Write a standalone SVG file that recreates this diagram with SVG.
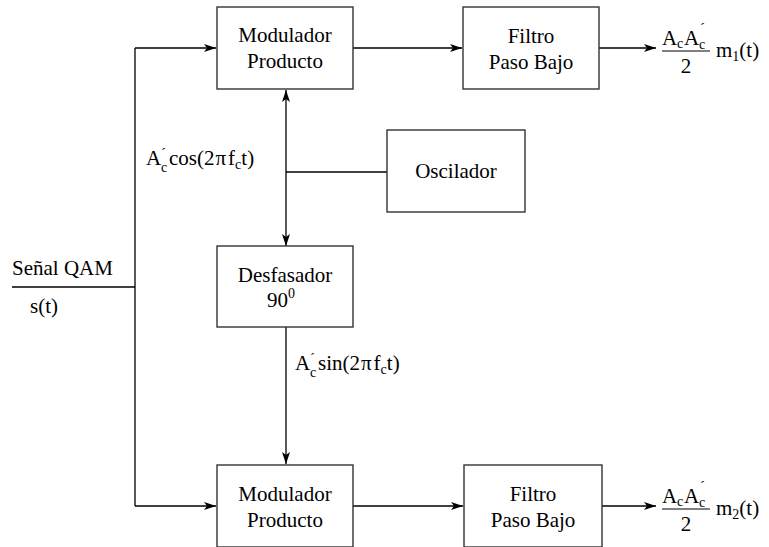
<svg xmlns="http://www.w3.org/2000/svg" width="769" height="547" viewBox="0 0 769 547">
  <style>
    .box { fill: #fff; stroke: #333; stroke-width: 1.4; }
    .wire { fill: none; stroke: #000; stroke-width: 1.3; }
    text { font-family: "Liberation Serif", "DejaVu Serif", serif; font-size: 21px; fill: #000; }
    .mid { text-anchor: middle; }
    .sub { font-size: 14px; }
    .acc { font-size: 15px; }
  </style>
  <defs>
    <marker id="arr" viewBox="0 0 12 8" refX="12" refY="4" markerWidth="12" markerHeight="8" markerUnits="userSpaceOnUse" orient="auto">
      <path d="M0,0 L12,4 L0,8 L3,4 Z" fill="#000"/>
    </marker>
  </defs>

  <rect width="769" height="547" fill="#fff"/>

  <!-- connectors -->
  <g id="connectors">
    <!-- input line and split -->
    <path class="wire" d="M12,287 H135"/>
    <path class="wire" d="M135,48 V506"/>
    <path class="wire" d="M135,48 H216" marker-end="url(#arr)"/>
    <path class="wire" d="M135,506 H216" marker-end="url(#arr)"/>
    <!-- modulators to filters -->
    <path class="wire" d="M353,48 H462" marker-end="url(#arr)"/>
    <path class="wire" d="M353,506 H463" marker-end="url(#arr)"/>
    <!-- filter outputs -->
    <path class="wire" d="M599,48 H656" marker-end="url(#arr)"/>
    <path class="wire" d="M602,506 H656" marker-end="url(#arr)"/>
    <!-- oscillator distribution -->
    <path class="wire" d="M387,172 H286"/>
    <path class="wire" d="M286,172 V90" marker-end="url(#arr)"/>
    <path class="wire" d="M286,172 V246" marker-end="url(#arr)"/>
    <path class="wire" d="M286,327 V464" marker-end="url(#arr)"/>
  </g>

  <!-- blocks -->
  <g id="mod1">
    <rect class="box" x="217" y="7" width="136" height="82"/>
    <text class="mid" x="285" y="42">Modulador</text>
    <text class="mid" x="285" y="68">Producto</text>
  </g>
  <g id="lpf1">
    <rect class="box" x="463" y="7" width="136" height="82"/>
    <text class="mid" x="531" y="43">Filtro</text>
    <text class="mid" x="531" y="69">Paso Bajo</text>
  </g>
  <g id="osc">
    <rect class="box" x="387" y="130" width="138" height="82"/>
    <text class="mid" x="456" y="178">Oscilador</text>
  </g>
  <g id="shift">
    <rect class="box" x="217" y="246" width="136" height="81"/>
    <text class="mid" x="285" y="282">Desfasador</text>
    <text class="mid" x="281" y="307">90<tspan class="sub" dy="-9">0</tspan></text>
  </g>
  <g id="mod2">
    <rect class="box" x="217" y="465" width="136" height="82"/>
    <text class="mid" x="285" y="501">Modulador</text>
    <text class="mid" x="285" y="527">Producto</text>
  </g>
  <g id="lpf2">
    <rect class="box" x="464" y="465" width="138" height="82"/>
    <text class="mid" x="533" y="501">Filtro</text>
    <text class="mid" x="533" y="527">Paso Bajo</text>
  </g>

  <!-- input labels -->
  <g id="input">
    <text x="12" y="275">Señal QAM</text>
    <text x="30" y="313">s(t)</text>
  </g>

  <!-- carrier labels -->
  <g id="carrier-labels">
    <text x="146" y="165">A</text>
    <text class="acc" x="161" y="158">´</text>
    <text class="sub" x="161" y="172">c</text>
    <text x="169" y="165">cos(2<tspan dx="1">π</tspan><tspan dx="2">f</tspan><tspan class="sub" dy="4">c</tspan><tspan dy="-4">t)</tspan></text>
    <text x="295" y="370">A</text>
    <text class="acc" x="310" y="363">´</text>
    <text class="sub" x="310" y="377">c</text>
    <text x="318" y="370">sin(2<tspan dx="1">π</tspan><tspan dx="2">f</tspan><tspan class="sub" dy="4">c</tspan><tspan dy="-4">t)</tspan></text>
  </g>

  <!-- outputs -->
  <g id="out1">
    <text x="662" y="45">A</text>
    <text class="sub" x="677" y="48">c</text>
    <text x="684" y="45">A</text>
    <text class="acc" x="700" y="33">´</text>
    <text class="sub" x="699" y="49">c</text>
    <path d="M662,51 H710" stroke="#000" stroke-width="1.2"/>
    <text class="mid" x="686" y="73">2</text>
    <text x="716" y="57">m<tspan class="sub" dy="4">1</tspan><tspan dy="-4">(t)</tspan></text>
  </g>
  <g id="out2">
    <text x="662" y="503">A</text>
    <text class="sub" x="677" y="506">c</text>
    <text x="684" y="503">A</text>
    <text class="acc" x="700" y="491">´</text>
    <text class="sub" x="699" y="507">c</text>
    <path d="M662,509 H710" stroke="#000" stroke-width="1.2"/>
    <text class="mid" x="686" y="531">2</text>
    <text x="716" y="515">m<tspan class="sub" dy="4">2</tspan><tspan dy="-4">(t)</tspan></text>
  </g>
</svg>
